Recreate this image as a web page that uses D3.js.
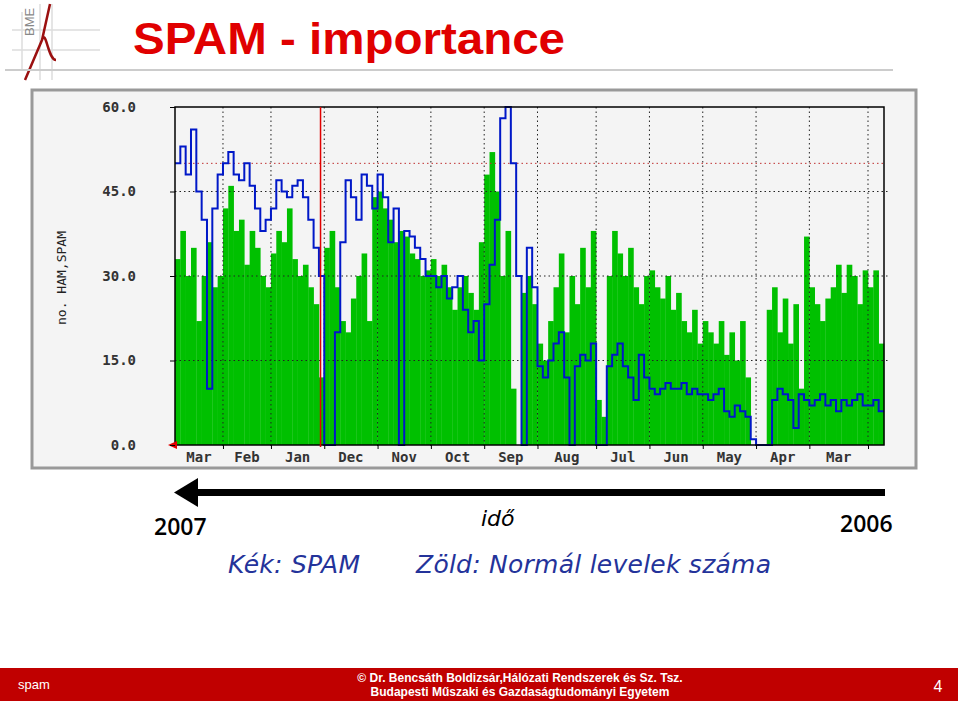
<!DOCTYPE html>
<html><head><meta charset="utf-8">
<script src="https://cdn.jsdelivr.net/npm/d3@7.9.0/dist/d3.min.js"></script>
<style>body{margin:0;background:#fff}svg{display:block}</style>
</head><body><svg id="s" width="960" height="701"></svg>
<script>
// Ham (green) and spam (blue) counts, sampled every ~3 days, newest first
const ham = [33,38,30,35,22,30,36,28,30, 42,46,38,40,32,38,35,30,28,
  34,38,36,42,33,30,32,28,25,12, 35,38,28,22,20,26,30,34,22,44,
  45,42,40,36,38,37,34,33,30,31, 33,30,32,28,24,28,30,27,24,36,
  48,52,45,30,38,10,0,27,30,25, 18,15,22,28,34,20,30,25,35,28,38,
  8,5,30,38,34,30,35,28,25,30, 31,28,26,30,24,27,22,20,24,18,
  22,20,18,22,16,20,15,22,12,0, 0,0,24,28,20,26,18,25,10,37,
  28,25,22,26,28,32,27,32,30,25,31, 28,31,18];
const spam = [50,53,48,56,45,40,10,42,48, 50,52,48,47,50,46,42,38,40,
  42,47,45,44,46,47,44,40,35,30, 0,0,20,36,47,44,40,48,46,42,
  48,44,36,42,0,38,37,35,33,30, 30,28,30,26,28,30,24,20,22,15,
  25,32,40,58,60,50,30,0,35,28, 14,12,15,18,20,12,0,14,16,15,18,
  0,0,14,16,18,14,12,8,16,12, 10,9,10,11,10,10,11,9,10,9,
  9,8,9,10,6,5,7,6,5,1, 0,0,0,8,10,9,8,3,9,8,
  7,8,9,7,8,6,8,7,8,9,7, 7,8,6];
const monthBounds = [9,18,28,38,48,58,68,79,89,99,109,119,130];
const monthLabels = ["Mar","Feb","Jan","Dec","Nov","Oct","Sep","Aug","Jul","Jun","May","Apr","Mar"];
const yTicks = [0,15,30,45,60];

const svg = d3.select("#s");
const N = ham.length;
const x = d3.scaleLinear().domain([0, N]).range([175, 884]);
const y = d3.scaleLinear().domain([0, 60]).range([445, 107]);

// header
const logo = svg.append("g").attr("stroke", "#ddd").attr("stroke-width", 1.5);
[[22,12,22,70],[40,4,40,80],[52,4,52,80],[12,30,100,30],[12,50,100,50]].forEach(l =>
  logo.append("line").attr("x1",l[0]).attr("y1",l[1]).attr("x2",l[2]).attr("y2",l[3]));
svg.append("text").attr("transform","translate(34,36) rotate(-90)").attr("font-family","Arial")
  .attr("font-size",13).attr("fill","#888").text("BME");
svg.append("path").attr("d","M25,80 L42,40 L50,4 M42,40 C46,28 48,60 56,60").attr("stroke","#9b1010")
  .attr("stroke-width",2.5).attr("fill","none");
svg.append("text").attr("x",133).attr("y",54).attr("font-family","Liberation Sans, Arial")
  .attr("font-weight","bold").attr("font-size",44).attr("fill","#e00000")
  .attr("textLength",432).attr("lengthAdjust","spacingAndGlyphs").text("SPAM - importance");
svg.append("rect").attr("x",5).attr("y",69).attr("width",888).attr("height",2).attr("fill","#ccc");

// chart panel
svg.append("rect").attr("x",32).attr("y",90).attr("width",884).attr("height",378)
  .attr("fill","#f4f4f4").attr("stroke","#999").attr("stroke-width",3);

svg.append("g").selectAll("rect").data(ham).join("rect")
  .attr("x",(d,i)=>x(i)).attr("width",(d,i)=>x(i+1)-x(i)+0.3)
  .attr("y",d=>y(d)).attr("height",d=>y(0)-y(d)).attr("fill","#00c000");

// grid
const grid = svg.append("g").attr("stroke","#222").attr("stroke-dasharray","1.5,3").attr("stroke-width",1);
yTicks.slice(1,4).forEach(t => grid.append("line").attr("x1",175).attr("x2",890).attr("y1",y(t)).attr("y2",y(t)));
monthBounds.forEach(b => grid.append("line").attr("x1",x(b)).attr("x2",x(b)).attr("y1",107).attr("y2",449));
svg.append("line").attr("x1",175).attr("x2",884).attr("y1",y(50)).attr("y2",y(50))
  .attr("stroke","#c03030").attr("stroke-dasharray","1.5,3");

// spam line
const line = d3.line().x((d,i)=>x(i)).y(d=>y(d)).curve(d3.curveStepAfter);
svg.append("path").datum(spam.concat([spam[N-1]])).attr("d",line)
  .attr("fill","none").attr("stroke","#0018c8").attr("stroke-width",2);

// frame
svg.append("path").attr("d",`M175,${y(0)} V107 H884 V${y(0)} H175`).attr("fill","none")
  .attr("stroke","#000").attr("stroke-width",1.5);
svg.append("line").attr("x1",x(27.3)).attr("x2",x(27.3)).attr("y1",107).attr("y2",447)
  .attr("stroke","#e00000").attr("stroke-width",1.5);
svg.append("path").attr("d",`M168,${y(0)} l9,-4 v8 z`).attr("fill","#e00000");

// axes
const ax = svg.append("g").attr("transform",`translate(175,0)`)
  .call(d3.axisLeft(y).tickValues(yTicks).tickFormat(d3.format(".1f")).tickSize(5));
ax.select(".domain").remove();
ax.selectAll("text").attr("x",-39).attr("font-family","DejaVu Sans Mono").attr("font-weight","bold")
  .attr("font-size",14).attr("fill","#333");
const xb = svg.append("g").attr("transform",`translate(0,${y(0)})`)
  .call(d3.axisBottom(x).tickValues(monthBounds).tickFormat("").tickSize(4));
xb.select(".domain").remove();
const edges = [0].concat(monthBounds, [N]);
svg.append("g").selectAll("text").data(monthLabels).join("text")
  .attr("x",(d,i)=>(x(edges[i])+x(edges[i+1]))/2).attr("y",462).attr("text-anchor","middle")
  .attr("font-family","DejaVu Sans Mono").attr("font-weight","bold").attr("font-size",14)
  .attr("fill","#333").text(d=>d);
svg.append("text").attr("transform","translate(66,278) rotate(-90)").attr("text-anchor","middle")
  .attr("font-family","DejaVu Sans Mono").attr("font-size",13).attr("fill","#222").text("no. HAM,SPAM");

// time arrow
svg.append("rect").attr("x",190).attr("y",489).attr("width",695).attr("height",7).attr("fill","#000");
svg.append("path").attr("d","M174,492.5 L198,478 L198,507 Z").attr("fill","#000");
svg.append("text").attr("x",154).attr("y",535).attr("font-family","Open Sans").attr("font-weight","600")
  .attr("font-size",23).text("2007");
svg.append("text").attr("x",840).attr("y",532).attr("font-family","Open Sans").attr("font-weight","600")
  .attr("font-size",23).text("2006");
svg.append("text").attr("x",481).attr("y",526).attr("font-family","DejaVu Sans").attr("font-style","italic")
  .attr("font-size",22).text("idő");
svg.append("text").attr("x",228).attr("y",573).attr("font-family","DejaVu Sans").attr("font-style","italic")
  .attr("font-size",25).attr("fill","#24339a").attr("textLength",132).text("Kék: SPAM");
svg.append("text").attr("x",416).attr("y",573).attr("font-family","DejaVu Sans").attr("font-style","italic")
  .attr("font-size",25).attr("fill","#24339a").attr("textLength",355).text("Zöld: Normál levelek száma");

// footer
svg.append("rect").attr("x",0).attr("y",668).attr("width",958).attr("height",33).attr("fill","#c00000");
svg.append("text").attr("x",18).attr("y",689).attr("font-family","Liberation Sans").attr("font-size",13)
  .attr("fill","#fff").text("spam");
svg.append("text").attr("x",520).attr("y",682).attr("text-anchor","middle").attr("font-family","Liberation Sans")
  .attr("font-weight","bold").attr("font-size",12).attr("fill","#fff").text("© Dr. Bencsáth Boldizsár,Hálózati Rendszerek és Sz. Tsz.");
svg.append("text").attr("x",520).attr("y",696).attr("text-anchor","middle").attr("font-family","Liberation Sans")
  .attr("font-weight","bold").attr("font-size",12).attr("fill","#fff").text("Budapesti Műszaki és Gazdaságtudományi Egyetem");
svg.append("text").attr("x",938).attr("y",692).attr("text-anchor","middle").attr("font-family","Liberation Sans")
  .attr("font-size",16).attr("fill","#fff").text("4");
</script></body></html>
